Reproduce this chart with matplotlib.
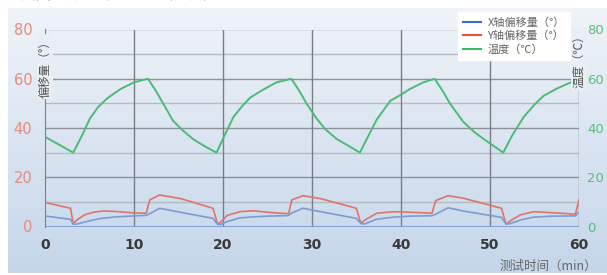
import matplotlib
matplotlib.use("Agg")
import matplotlib.pyplot as plt
import numpy as np
from matplotlib.lines import Line2D

plt.rcParams['font.family'] = ['Noto Sans CJK SC', 'DejaVu Sans']

# ---- data ----
t_temp = [0, 3.2, 4.2, 5.1, 6.0, 7.0, 8.5, 10.0, 11.6, 12.5, 13.3, 14.4, 15.5, 16.7, 18.0, 19.3,
          20.2, 21.2, 22.2, 23.1, 24.5, 26.0, 27.7, 28.6, 29.4, 30.5, 31.5, 32.8, 34.0, 35.4,
          36.3, 37.3, 38.8, 40.0, 41.0, 42.5, 43.8, 44.7, 45.5, 47.0, 48.2, 49.3, 50.3, 51.5,
          52.5, 53.8, 55.0, 56.0, 57.5, 60.0]
temp = [36.5, 30, 37, 44, 48.5, 52, 55.8, 58.5, 60, 55, 50, 43, 39, 35.4, 32.5, 30,
        37, 44.5, 49, 52.4, 55.5, 58.5, 60, 55, 50, 44, 39.5, 35.5, 33, 30,
        36.5, 43.5, 51, 53.5, 55.8, 58.5, 60, 55, 50, 42.5, 38.5, 35.5, 33, 30,
        37, 44.5, 49.5, 53, 56, 60]

t_off = [0, 2.9, 3.2, 3.6, 4.5, 5.5, 6.6, 8.0, 10.0, 11.4, 11.8, 12.9, 15.2, 18.9, 19.4,
         19.7, 20.5, 21.9, 23.4, 25.0, 27.2, 27.4, 27.75, 29.0, 31.0, 35.0, 35.5,
         35.9, 37.3, 39.2, 41.0, 43.5, 43.9, 45.3, 47.0, 51.3, 51.8,
         52.3, 53.4, 54.9, 57.0, 59.6, 60.0]
y_off = [9.8, 7.4, 1.2, 2.6, 4.8, 5.8, 6.3, 6.1, 5.5, 5.4, 10.8, 12.8, 11.4, 7.4, 1.2,
         1.5, 4.5, 6.0, 6.4, 5.8, 5.2, 5.4, 10.8, 12.5, 11.3, 7.4, 1.2,
         2.5, 5.4, 6.0, 5.8, 5.4, 10.5, 12.5, 11.5, 7.4, 1.0,
         2.3, 4.7, 6.0, 5.6, 5.0, 10.8]
x_off = [4.3, 2.9, 0.9, 1.0, 1.8, 2.7, 3.4, 3.9, 4.3, 4.5, 5.2, 7.4, 5.8, 3.3, 0.9,
         0.8, 2.0, 3.5, 3.9, 4.2, 4.4, 4.6, 5.5, 7.4, 6.0, 3.3, 1.2,
         1.0, 3.0, 3.8, 4.2, 4.4, 5.0, 7.6, 6.3, 3.7, 1.0,
         1.2, 2.6, 3.8, 4.2, 4.3, 6.0]

x_ticks = [0, 10, 20, 30, 40, 50, 60]
y_ticks = [0, 20, 40, 60, 80]
legend_labels = ['X轴偏移量（°）', 'Y轴偏移量（°）', '温度（℃）']
left_label = '偏移量（°）'
right_label = '温度（℃）'
x_label = '测试时间（min）'

W, H = 607, 275
fig = plt.figure(figsize=(W / 100, H / 100), dpi=100)
fig.patch.set_facecolor('white')

# background gradient panel
bg = fig.add_axes([8 / W, 1 - 273 / H, 1 - 8 / W, (273 - 8) / H])
grad = np.linspace(0, 1, 256).reshape(-1, 1)
top_c = np.array([0.94, 0.955, 0.975])
bot_c = np.array([0.77, 0.84, 0.915])
img = top_c[None, None, :] * (1 - grad[:, :, None]) + bot_c[None, None, :] * grad[:, :, None]
bg.imshow(img, aspect='auto', extent=[0, 1, 0, 1])
bg.set_axis_off()
bg.set_zorder(-5)

# clipped title at very top
fig.text(5 / W, 1 - 3 / H, '温度变化过程的偏移量（示例）', fontsize=11, color='#222222',
         va='bottom', ha='left')

left, right = 44.7 / W, 579 / W
bottom, top = 1 - 226.5 / H, 1 - 29.5 / H
ax = fig.add_axes([left, bottom, right - left, top - bottom])
ax.patch.set_alpha(0)
ax.set_xlim(0, 60)
ax.set_ylim(0, 80)

for v in range(10, 90, 10):
    ax.axhline(v, color='#8d9298' if v % 20 == 0 else '#b4bac2', lw=1.0, zorder=1)
for v in range(10, 60, 10):
    ax.axvline(v, color='#7a7f85', lw=1.0, zorder=1)
ax.axvline(60, color='#7a7f85', lw=1.0, zorder=1)
ax.axhline(0, color='#6f98d6', lw=1.2, zorder=2)

for s in ['top', 'right', 'bottom']:
    ax.spines[s].set_visible(False)
ax.spines['left'].set_color('#7a7f85')

ax.plot(t_temp, temp, color='#4dbb73', lw=1.4, zorder=3)
ax.plot(t_off, y_off, color='#e07468', lw=1.2, zorder=3)
ax.plot(t_off, x_off, color='#7d9bd3', lw=1.2, zorder=3)

ax.set_xticks(x_ticks)
ax.set_xticklabels([str(v) for v in x_ticks], fontsize=10, color='#3a3a3a', fontweight='bold',
                   family=['DejaVu Sans'])
ax.set_yticks(y_ticks)
ax.set_yticklabels([str(v) for v in y_ticks], fontsize=10.5, color='#e8897f', family=['DejaVu Sans'])
ax.tick_params(axis='both', length=0)
ax.tick_params(axis='x', pad=8)
ax.tick_params(axis='y', pad=9)

ax2 = ax.twinx()
ax2.set_ylim(0, 80)
ax2.set_yticks(y_ticks)
ax2.set_yticklabels([str(v) for v in y_ticks], fontsize=9.5, color='#52c27a', family=['DejaVu Sans'])
ax2.tick_params(axis='y', length=0, pad=6)
for s in ax2.spines.values():
    s.set_visible(False)

bgc = '#e9eef5'
ax.text(0, 65, left_label, rotation=90, ha='center', va='center', fontsize=8.5, color='#555555',
        bbox=dict(facecolor=bgc, edgecolor='none', pad=1), zorder=6, clip_on=False)
ax.text(60, 68, right_label, rotation=90, ha='center', va='center', fontsize=8.5, color='#555555',
        bbox=dict(facecolor=bgc, edgecolor='none', pad=1), zorder=6, clip_on=False)

fig.text(597 / W, 1 - 266 / H, x_label, ha='right', va='center', fontsize=9, color='#666666')

handles = [Line2D([], [], color='#3a6cc8', lw=1.5),
           Line2D([], [], color='#e8503a', lw=1.5),
           Line2D([], [], color='#3cb86a', lw=1.5)]
leg = fig.legend(handles, legend_labels, loc='upper left',
                 bbox_to_anchor=(452 / W, 1 - 6 / H), frameon=True, fontsize=8,
                 handlelength=1.6, handletextpad=0.6, labelspacing=0.25,
                 borderpad=0.5, fancybox=False)
leg.get_frame().set_facecolor('white')
leg.get_frame().set_edgecolor('white')
leg.get_frame().set_alpha(1)
for txt in leg.get_texts():
    txt.set_color('#666666')

fig.savefig('out.png', dpi=100)
